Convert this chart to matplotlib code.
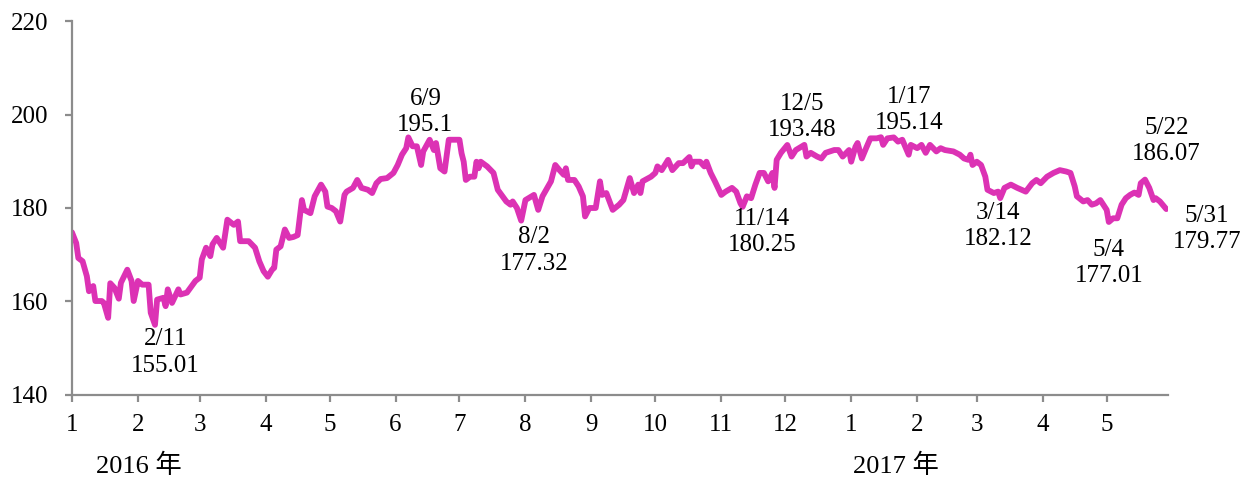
import pandas as pd
import matplotlib
matplotlib.use('Agg')
import matplotlib.pyplot as plt

plt.rcParams['font.family'] = ['Liberation Serif', 'Noto Sans CJK TC']

# daily index values
dates = [
    '2016-01-01', '2016-01-03', '2016-01-04', '2016-01-06', '2016-01-08', '2016-01-09',
    '2016-01-11', '2016-01-12', '2016-01-15', '2016-01-16', '2016-01-18', '2016-01-19',
    '2016-01-21', '2016-01-23', '2016-01-24', '2016-01-27', '2016-01-29', '2016-01-30',
    '2016-02-01', '2016-02-03', '2016-02-06', '2016-02-07', '2016-02-09', '2016-02-10',
    '2016-02-13', '2016-02-14', '2016-02-15', '2016-02-17', '2016-02-20', '2016-02-21',
    '2016-02-24', '2016-02-28', '2016-03-01', '2016-03-02', '2016-03-04', '2016-03-06',
    '2016-03-07', '2016-03-09', '2016-03-12', '2016-03-14', '2016-03-17', '2016-03-19',
    '2016-03-20', '2016-03-24', '2016-03-27', '2016-03-29', '2016-03-31', '2016-04-02',
    '2016-04-04', '2016-04-05', '2016-04-06', '2016-04-08', '2016-04-10', '2016-04-12',
    '2016-04-14', '2016-04-16', '2016-04-18', '2016-04-19', '2016-04-22', '2016-04-24',
    '2016-04-27', '2016-04-29', '2016-04-30', '2016-05-02', '2016-05-04', '2016-05-06',
    '2016-05-08', '2016-05-09', '2016-05-12', '2016-05-14', '2016-05-16', '2016-05-19',
    '2016-05-21', '2016-05-23', '2016-05-25', '2016-05-28', '2016-05-31', '2016-06-02',
    '2016-06-04', '2016-06-06', '2016-06-07', '2016-06-09', '2016-06-11', '2016-06-13',
    '2016-06-14', '2016-06-17', '2016-06-19', '2016-06-20', '2016-06-22', '2016-06-24',
    '2016-06-26', '2016-06-28', '2016-07-01', '2016-07-02', '2016-07-03', '2016-07-04',
    '2016-07-06', '2016-07-08', '2016-07-09', '2016-07-10', '2016-07-11', '2016-07-14',
    '2016-07-17', '2016-07-19', '2016-07-23', '2016-07-25', '2016-07-26', '2016-07-28',
    '2016-07-30', '2016-08-01', '2016-08-05', '2016-08-07', '2016-08-09', '2016-08-13',
    '2016-08-15', '2016-08-17', '2016-08-19', '2016-08-20', '2016-08-21', '2016-08-24',
    '2016-08-26', '2016-08-28', '2016-08-29', '2016-08-31', '2016-09-03', '2016-09-05',
    '2016-09-06', '2016-09-08', '2016-09-11', '2016-09-14', '2016-09-16', '2016-09-19',
    '2016-09-21', '2016-09-23', '2016-09-24', '2016-09-25', '2016-09-29', '2016-10-01',
    '2016-10-02', '2016-10-04', '2016-10-07', '2016-10-09', '2016-10-12', '2016-10-14',
    '2016-10-17', '2016-10-18', '2016-10-19', '2016-10-22', '2016-10-24', '2016-10-25',
    '2016-10-27', '2016-10-29', '2016-11-01', '2016-11-03', '2016-11-06', '2016-11-08',
    '2016-11-10', '2016-11-11', '2016-11-13', '2016-11-15', '2016-11-17', '2016-11-19',
    '2016-11-21', '2016-11-23', '2016-11-25', '2016-11-26', '2016-11-27', '2016-11-29',
    '2016-12-02', '2016-12-04', '2016-12-06', '2016-12-10', '2016-12-11', '2016-12-13',
    '2016-12-16', '2016-12-18', '2016-12-20', '2016-12-24', '2016-12-26', '2016-12-28',
    '2016-12-31', '2017-01-01', '2017-01-03', '2017-01-04', '2017-01-06', '2017-01-08',
    '2017-01-10', '2017-01-13', '2017-01-15', '2017-01-16', '2017-01-18', '2017-01-21',
    '2017-01-23', '2017-01-25', '2017-01-28', '2017-01-29', '2017-02-01', '2017-02-03',
    '2017-02-05', '2017-02-07', '2017-02-10', '2017-02-12', '2017-02-14', '2017-02-18',
    '2017-02-21', '2017-02-23', '2017-02-25', '2017-02-26', '2017-02-27', '2017-03-01',
    '2017-03-03', '2017-03-05', '2017-03-06', '2017-03-09', '2017-03-11', '2017-03-12',
    '2017-03-14', '2017-03-17', '2017-03-20', '2017-03-24', '2017-03-27', '2017-03-29',
    '2017-03-31', '2017-04-03', '2017-04-06', '2017-04-09', '2017-04-12', '2017-04-14',
    '2017-04-16', '2017-04-17', '2017-04-20', '2017-04-22', '2017-04-24', '2017-04-26',
    '2017-04-28', '2017-05-01', '2017-05-02', '2017-05-04', '2017-05-06', '2017-05-08',
    '2017-05-10', '2017-05-12', '2017-05-14', '2017-05-16', '2017-05-17', '2017-05-19',
    '2017-05-21', '2017-05-23', '2017-05-24', '2017-05-26', '2017-05-29',
]
values = [
    174.8, 172.5, 169.3, 168.6, 165.4, 162.2,
    163.3, 160.1, 160.1, 159.7, 156.5, 163.9,
    162.9, 160.6, 164.0, 166.8, 164.4, 160.1,
    164.4, 163.6, 163.6, 157.6, 155.0, 160.4,
    160.8, 159.0, 162.6, 159.7, 162.6, 161.5,
    161.9, 164.4, 165.1, 169.0, 171.5, 169.7,
    172.2, 173.6, 171.5, 177.5, 176.4, 177.1,
    172.9, 172.9, 171.5, 168.6, 166.5, 165.3,
    166.8, 167.2, 171.1, 171.8, 175.4, 173.6,
    173.8, 174.2, 181.7, 179.6, 178.9, 182.5,
    185.0, 183.5, 180.3, 180.0, 179.3, 177.1,
    182.8, 183.5, 184.3, 186.0, 184.3, 183.9,
    183.2, 185.3, 186.2, 186.4, 187.5, 189.2,
    191.4, 192.8, 195.1, 193.2, 193.2, 189.2,
    192.1, 194.6, 192.4, 193.9, 188.5, 187.8,
    194.6, 194.6, 194.6, 191.7, 189.9, 186.0,
    186.7, 186.7, 189.9, 188.5, 189.9, 188.9,
    187.5, 183.9, 181.4, 180.7, 181.4, 180.0,
    177.3, 181.7, 182.8, 179.6, 182.5, 185.7,
    189.2, 188.1, 187.1, 188.5, 186.0, 186.0,
    184.6, 182.5, 178.2, 180.0, 180.0, 185.7,
    182.8, 183.2, 179.6, 180.7, 181.7, 186.4,
    183.2, 185.0, 183.2, 185.7, 186.7, 187.5,
    188.9, 188.1, 190.3, 188.1, 189.6, 189.6,
    190.9, 188.9, 189.9, 189.9, 188.9, 189.9,
    187.5, 185.7, 182.8, 183.5, 184.3, 183.5,
    181.0, 180.25, 182.5, 182.1, 185.0, 187.5,
    187.5, 185.7, 187.5, 184.3, 190.3, 191.8,
    193.48, 191.0, 192.4, 193.5, 191.0, 191.8,
    191.0, 190.6, 191.8, 192.4, 192.4, 191.0,
    192.4, 189.9, 193.1, 193.9, 190.6, 192.8,
    194.9, 194.9, 195.14, 193.5, 194.9, 195.1,
    194.2, 194.6, 191.4, 193.5, 192.8, 193.5,
    191.8, 193.5, 192.1, 192.8, 192.4, 192.1,
    191.4, 190.6, 190.3, 191.4, 189.2, 189.9,
    189.2, 186.7, 183.9, 183.2, 183.5, 182.12,
    184.3, 185.0, 184.3, 183.5, 185.3, 186.0,
    185.3, 186.7, 187.5, 188.1, 187.8, 187.5,
    184.6, 182.5, 181.4, 181.7, 180.7, 181.0,
    181.7, 179.6, 177.01, 177.8, 177.8, 180.7,
    182.1, 182.8, 183.3, 182.8, 185.3, 186.07,
    184.3, 181.7, 182.1, 181.4, 179.77,
]

# annotation text and where it sits (date, value of the text block centre)
notes = ['2/11\n155.01', '6/9\n195.1', '8/2\n177.32', '11/14\n180.25', '12/5\n193.48',
         '1/17\n195.14', '3/14\n182.12', '5/4\n177.01', '5/22\n186.07', '5/31\n179.77']
note_dates = ['2016-02-14', '2016-06-15', '2016-08-05', '2016-11-20', '2016-12-09',
              '2017-01-28', '2017-03-11', '2017-05-02', '2017-05-29', '2017-06-17']
note_vals = [149.1, 200.6, 170.9, 174.8, 199.5, 200.9, 176.2, 168.2, 194.3, 175.5]

months = pd.date_range('2016-01-01', '2017-05-01', freq='MS')
month_labels = [str(m.month) for m in months]

color = '#DC32B4'
axis_gray = '#8C8C8C'
fs = 18

fig = plt.figure(figsize=(12.6, 4.84), dpi=100)
ax = fig.add_axes([0.0571, 0.1839, 0.8698, 0.7727])

x = pd.to_datetime(dates)
ax.plot(x, values, color=color, lw=4.2, solid_joinstyle='round', solid_capstyle='round')

ax.set_xlim(pd.Timestamp('2016-01-01'), pd.Timestamp('2017-05-29 18:00'))
ax.set_ylim(140, 220)
ax.set_yticks([140, 160, 180, 200, 220])
ax.set_xticks(months)
ax.set_xticklabels(month_labels)

for s in ['top', 'right']:
    ax.spines[s].set_visible(False)
for s in ['left', 'bottom']:
    ax.spines[s].set_color(axis_gray)
    ax.spines[s].set_linewidth(1.6)
ax.tick_params(axis='both', direction='out', color=axis_gray, width=1.6, length=5,
               labelsize=fs, labelcolor='black')
ax.tick_params(axis='y', pad=12)
ax.tick_params(axis='x', pad=9)

for t, d, v in zip(notes, note_dates, note_vals):
    ax.text(pd.Timestamp(d), v, t, ha='center', va='center', fontsize=fs,
            linespacing=1.25, clip_on=False)

fig.text(139 / 1260, 1 - 466 / 484, '2016 年', ha='center', va='center', fontsize=fs + 1)
fig.text(896 / 1260, 1 - 466 / 484, '2017 年', ha='center', va='center', fontsize=fs + 1)

fig.savefig('out.png', dpi=100, facecolor='white')
